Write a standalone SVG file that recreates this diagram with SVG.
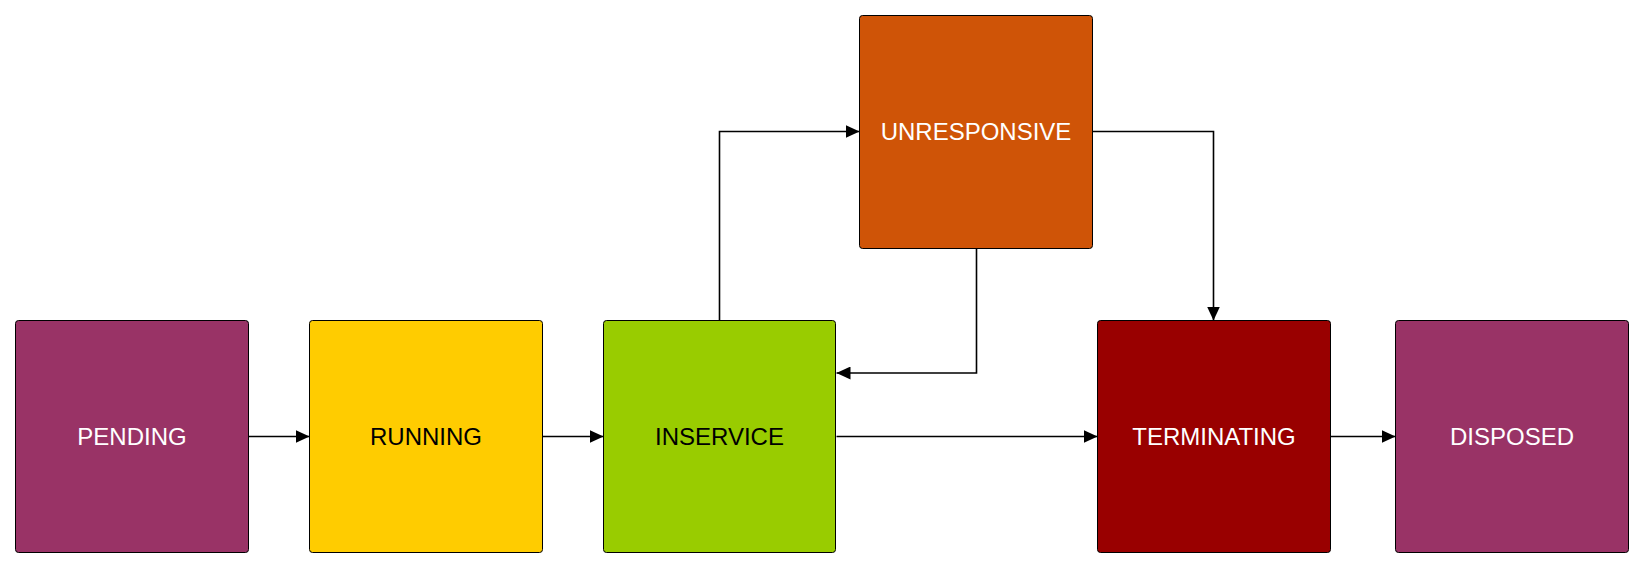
<svg xmlns="http://www.w3.org/2000/svg" width="1643" height="568" viewBox="0 0 1643 568">
<style>
.box{stroke:#000;stroke-width:1}
.lbl{font-family:"Liberation Sans",Arial,sans-serif;font-size:24px;text-anchor:middle}
.w{fill:#fff}
.b{fill:#000}
.edge{fill:none;stroke:#000;stroke-width:1.6}
</style>
<defs>
<marker id="arr" viewBox="0 0 14 13" refX="14" refY="6.5" markerWidth="14" markerHeight="13" markerUnits="userSpaceOnUse" orient="auto">
<path d="M0,0 L14,6.5 L0,13 Z" fill="#000"/>
</marker>
</defs>
<rect width="1643" height="568" fill="#fff"/>
<g id="connectors">
<path class="edge" d="M248.5,436.5 H309.5" marker-end="url(#arr)"/>
<path class="edge" d="M542.5,436.5 H603.5" marker-end="url(#arr)"/>
<path class="edge" d="M836.5,436.5 H1097.5" marker-end="url(#arr)"/>
<path class="edge" d="M1330.5,436.5 H1395.5" marker-end="url(#arr)"/>
<path class="edge" d="M719.5,320.5 V131.5 H859.5" marker-end="url(#arr)"/>
<path class="edge" d="M976.5,248.5 V373 H836.5" marker-end="url(#arr)"/>
<path class="edge" d="M1092.5,131.5 H1213.5 V320.5" marker-end="url(#arr)"/>
</g>
<g id="pending">
<rect class="box" x="15.5" y="320.5" width="233" height="232" rx="3" fill="#993366"/>
<text class="lbl w" x="132" y="445">PENDING</text>
</g>
<g id="running">
<rect class="box" x="309.5" y="320.5" width="233" height="232" rx="3" fill="#FFCC00"/>
<text class="lbl b" x="426" y="445">RUNNING</text>
</g>
<g id="inservice">
<rect class="box" x="603.5" y="320.5" width="232" height="232" rx="3" fill="#99CC00"/>
<text class="lbl b" x="719.5" y="445">INSERVICE</text>
</g>
<g id="unresponsive">
<rect class="box" x="859.5" y="15.5" width="233" height="233" rx="3" fill="#CF5407"/>
<text class="lbl w" x="976" y="140">UNRESPONSIVE</text>
</g>
<g id="terminating">
<rect class="box" x="1097.5" y="320.5" width="233" height="232" rx="3" fill="#990000"/>
<text class="lbl w" x="1214" y="445">TERMINATING</text>
</g>
<g id="disposed">
<rect class="box" x="1395.5" y="320.5" width="233" height="232" rx="3" fill="#993366"/>
<text class="lbl w" x="1512" y="445">DISPOSED</text>
</g>
</svg>
